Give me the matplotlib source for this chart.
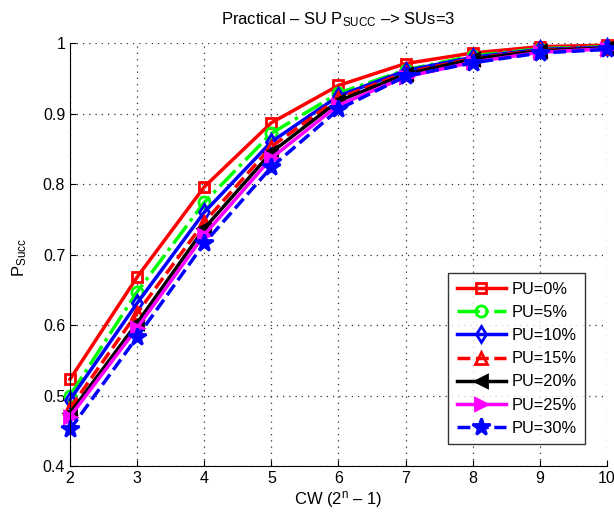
import matplotlib
matplotlib.use("Agg")
import matplotlib.pyplot as plt

plt.rcParams['font.family'] = ['Liberation Sans', 'DejaVu Sans']
plt.rcParams['mathtext.fontset'] = 'custom'
plt.rcParams['mathtext.rm'] = 'Liberation Sans'
plt.rcParams['mathtext.it'] = 'Liberation Sans'

cw = [2, 3, 4, 5, 6, 7, 8, 9, 10]
labels = ["PU=0%", "PU=5%", "PU=10%", "PU=15%", "PU=20%", "PU=25%", "PU=30%"]
pu0 = [0.523, 0.668, 0.796, 0.887, 0.940, 0.971, 0.986, 0.995, 0.997]
pu5 = [0.500, 0.647, 0.774, 0.872, 0.929, 0.962, 0.982, 0.992, 0.995]
pu10 = [0.494, 0.631, 0.760, 0.860, 0.925, 0.961, 0.980, 0.991, 0.994]
pu15 = [0.482, 0.617, 0.746, 0.853, 0.922, 0.958, 0.978, 0.990, 0.993]
pu20 = [0.475, 0.603, 0.737, 0.845, 0.918, 0.956, 0.977, 0.989, 0.993]
pu25 = [0.470, 0.596, 0.728, 0.837, 0.912, 0.952, 0.973, 0.987, 0.992]
pu30 = [0.452, 0.583, 0.716, 0.824, 0.906, 0.953, 0.972, 0.986, 0.991]
series = [pu0, pu5, pu10, pu15, pu20, pu25, pu30]

styles = [
    dict(color='#ff0000', ls='-', marker='s', ms=7),
    dict(color='#00ff00', ls='-.', marker='o', ms=8),
    dict(color='#0000ff', ls='-', marker='d', ms=8),
    dict(color='#ff0000', ls='--', marker='^', ms=8),
    dict(color='#000000', ls='-', marker='<', ms=8),
    dict(color='#ff00ff', ls='-', marker='>', ms=8),
    dict(color='#0000ff', ls='--', marker='*', ms=13),
]

fig = plt.figure(figsize=(6.14, 5.17), dpi=100)
ax = fig.add_axes([0.114, 0.0986, 0.8746, 0.818])

for y, lab, st in zip(series, labels, styles):
    ax.plot(cw, y, color=st['color'], ls=st['ls'], marker=st['marker'],
            ms=st['ms'], lw=2.5, mfc='none' if st['marker'] in ('s', 'o', 'd', '^') else st['color'],
            mec=st['color'], mew=2, label=lab, clip_on=False)

ax.set_xlim(2, 10)
ax.set_ylim(0.4, 1.0)
ax.set_xticks(cw)
ax.set_yticks([0.4, 0.5, 0.6, 0.7, 0.8, 0.9, 1.0])
ax.set_yticklabels(['0.4', '0.5', '0.6', '0.7', '0.8', '0.9', '1'])
ax.grid(True, ls=(0, (1, 4)), color='#303030', lw=0.9)
ax.tick_params(direction='in', labelsize=11.5, length=4)
for s in ['top', 'right']:
    ax.spines[s].set_visible(False)

cx = 0.114 + 0.8746 / 2
fig.text(cx, 1 - 20 / 517, r'Practical – SU P$_{\mathrm{SUCC}}$ –> SUs=3',
         fontsize=12, ha='center', va='center')
fig.text(cx, 1 - 500 / 517, r'CW (2$^{\mathrm{n}}$ – 1)',
         fontsize=12, ha='center', va='center')
fig.text(20 / 614, 1 - 258 / 517, r'P$_{\mathrm{Succ}}$',
         fontsize=12, ha='center', va='center', rotation=90)

leg = ax.legend(loc='lower right', bbox_to_anchor=(0.959, 0.052), fontsize=11.8,
                frameon=True, fancybox=False, edgecolor='black',
                handlelength=3.0, handletextpad=0.35, borderpad=0.5, labelspacing=0.5,
                borderaxespad=0)
leg.get_frame().set_linewidth(1)

fig.savefig('out.png', dpi=100)
